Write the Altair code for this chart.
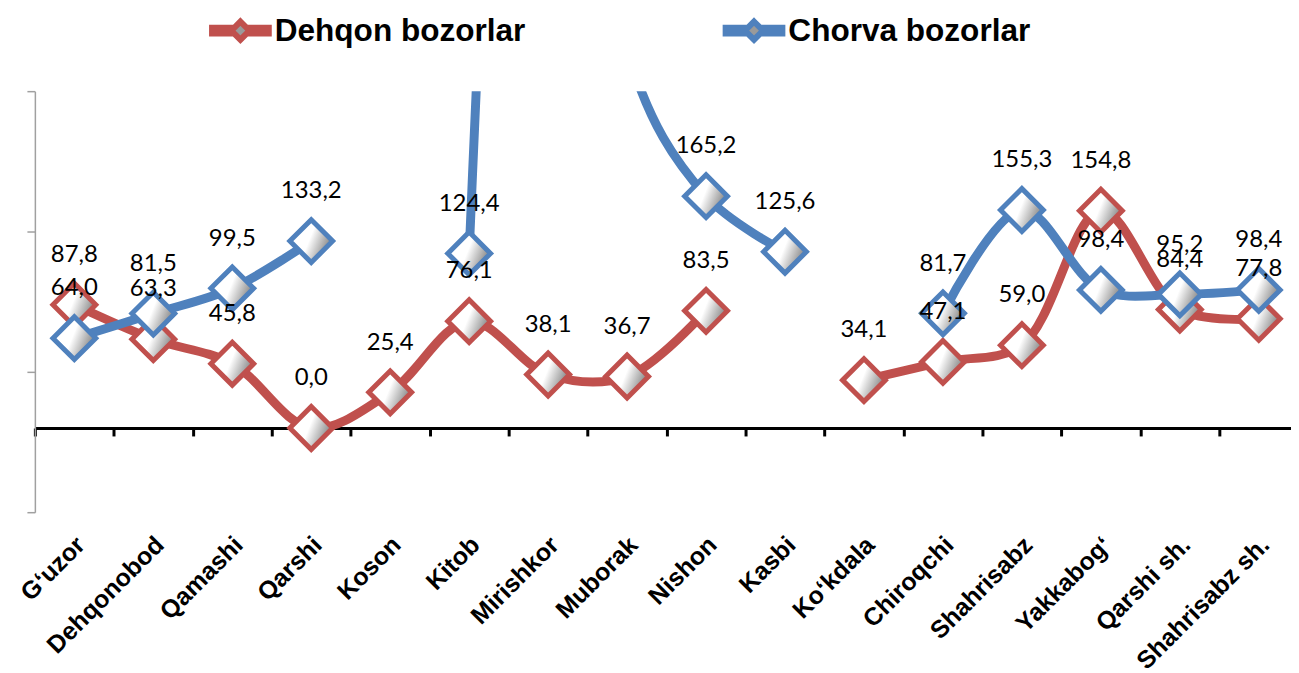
import altair as alt
import pandas as pd

categories = ["G‘uzor", "Dehqonobod", "Qamashi", "Qarshi", "Koson", "Kitob",
              "Mirishkor", "Muborak", "Nishon", "Kasbi", "Ko‘kdala", "Chiroqchi",
              "Shahrisabz", "Yakkabog‘", "Qarshi sh.", "Shahrisabz sh."]
series_names = ["Dehqon bozorlar", "Chorva bozorlar"]
dehqon = [87.8, 63.3, 45.8, 0.0, 25.4, 76.1, 38.1, 36.7, 83.5, None,
          34.1, 47.1, 59.0, 154.8, 84.4, 77.8]
chorva = [64.0, 81.5, 99.5, 133.2, None, 124.4, 1000.0, 270.0, 165.2, 125.6,
          None, 81.7, 155.3, 98.4, 95.2, 98.4]
colors = ["#C0504D", "#4F81BD"]
y_ticks = [-60, 40, 140, 240]

rows = []
for s, vals in zip(series_names, [dehqon, chorva]):
    seg = 0
    gap = True
    for i, (c, v) in enumerate(zip(categories, vals)):
        if v is None:
            gap = True
            continue
        if gap:
            seg += 1
            gap = False
        rows.append({"cat": c, "idx": i, "series": s,
                     "seg": f"{s}-{seg}", "value": v})
df = pd.DataFrame(rows)

marker_fill = alt.LinearGradient(
    gradient="linear",
    stops=[alt.GradientStop(color="#ffffff", offset=0),
           alt.GradientStop(color="#ffffff", offset=0.45),
           alt.GradientStop(color="#707070", offset=1)],
    x1=0, y1=0.3, x2=1, y2=0.7,
)

base = alt.Chart(df).encode(
    x=alt.X("cat:N", sort=categories,
            scale=alt.Scale(paddingInner=0, paddingOuter=0, range=[0, 1269.3]),
            axis=alt.Axis(title=None, orient="bottom", offset=-84.6,
                          domainColor="black", domainWidth=3,
                          tickColor="black", tickWidth=3, tickSize=8,
                          tickBand="extent", labelAngle=-45, labelAlign="right",
                          labelBaseline="middle", labelFont="Liberation Sans",
                          labelFontSize=25, labelFontWeight="bold",
                          labelColor="black", labelPadding=105, labelOffset=6,
                          labelOverlap=False, labelLimit=400, grid=False)),
    y=alt.Y("value:Q", scale=alt.Scale(domain=[-60, 240], nice=False, zero=False),
            axis=alt.Axis(title=None, values=y_ticks, labels=False,
                          domainColor="#a0a0a0", domainWidth=1.5,
                          tickColor="#a0a0a0", tickWidth=1.5, tickSize=8,
                          grid=False)),
)

legend_symbol = ("M-0.905,-0.095L-0.33,-0.095L-0.33,0.095L-0.905,0.095Z"
                 "M0.33,-0.095L0.905,-0.095L0.905,0.095L0.33,0.095Z"
                 "M0,-0.29L0.29,0L0,0.29L-0.29,0Z")

line = base.mark_line(interpolate="catmull-rom", strokeWidth=9, clip=True).encode(
    color=alt.Color("series:N",
                    scale=alt.Scale(domain=series_names, range=colors),
                    legend=alt.Legend(
                        orient="none", legendX=172, legendY=-95.5,
                        direction="horizontal", title=None,
                        symbolType=legend_symbol, symbolSize=3969,
                        symbolStrokeWidth=6, symbolFillColor="#9a9a9a",
                        labelFont="Liberation Sans", labelFontSize=31.7,
                        labelFontWeight="bold", labelColor="black",
                        labelOffset=0, columnPadding=188, padding=0,
                        labelLimit=600)),
    detail="seg:N",
    order="idx:Q",
)

points = base.mark_point(shape="diamond", size=1850, filled=True, fill=marker_fill,
                         strokeWidth=5, opacity=1, clip=True).encode(
    stroke=alt.Stroke("series:N", scale=alt.Scale(domain=series_names, range=colors),
                      legend=None),
)

labels = base.transform_filter("datum.value <= 240").transform_calculate(
    label="replace(format(datum.value, '.1f'), '.', ',')"
).mark_text(dy=-50, font="Lato", fontSize=24, color="black", baseline="middle",
            clip=True).encode(text="label:N")

chart = alt.layer(line, points, labels).properties(
    width=1262, height=423,
    autosize=alt.AutoSizeParams(type="none"),
    padding={"left": 27, "top": 82, "right": 0, "bottom": 160},
    background="white",
).configure_view(stroke=None)

chart.save("out.html", embed_options={"renderer": "svg", "actions": False})
